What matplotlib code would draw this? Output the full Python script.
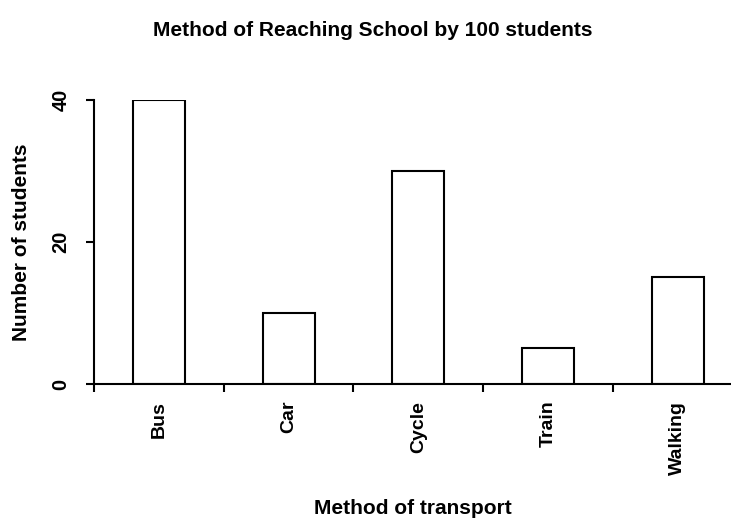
import matplotlib.pyplot as plt
import numpy as np

plt.rcParams['font.family'] = ['Liberation Sans', 'DejaVu Sans']
plt.rcParams['font.weight'] = 'bold'

# Survey results
methods = ['Bus', 'Car', 'Cycle', 'Train', 'Walking']
students = [40, 10, 30, 5, 15]

fig = plt.figure(figsize=(7.31, 5.21), dpi=100)
ax = fig.add_axes([0.1286, 0.263, 0.8714, 0.545])

x = np.arange(len(methods))
ax.bar(x, students, width=0.4, facecolor='white', edgecolor='black', linewidth=1.5)

ax.set_xlim(-0.49, 4.41)
ax.set_ylim(0, 40)

# category ticks sit between bars, labels centred under each bar
ax.set_xticks(x - 0.5)
ax.set_xticklabels([])
ax.set_xticks(x, minor=True)
ax.set_xticklabels(methods, minor=True, rotation=90, fontsize=14, fontweight='bold')
ax.tick_params(axis='x', which='minor', length=0, pad=12)
ax.tick_params(axis='x', which='major', length=6, width=1.5, direction='out')

ax.set_yticks([0, 20, 40])
ax.set_yticklabels(['0', '20', '40'], rotation=90, va='center', fontsize=14.5, fontweight='bold')
ax.tick_params(axis='y', length=6, width=1.5, pad=11)

for side in ['top', 'right']:
    ax.spines[side].set_visible(False)
for side in ['left', 'bottom']:
    ax.spines[side].set_linewidth(1.5)
ax.spines['left'].set_bounds(0, 40)

ax.set_ylabel('Number of students', fontsize=15, fontweight='bold')
ax.yaxis.set_label_coords(-0.099, 0.5)
ax.set_xlabel('Method of transport', fontsize=15, fontweight='bold')
ax.xaxis.set_label_coords(0.5, -0.405)

fig.text(0.510, 1 - 36 / 521, 'Method of Reaching School by 100 students',
         ha='center', va='baseline', fontsize=15, fontweight='bold')

fig.savefig('out.png', dpi=100)
